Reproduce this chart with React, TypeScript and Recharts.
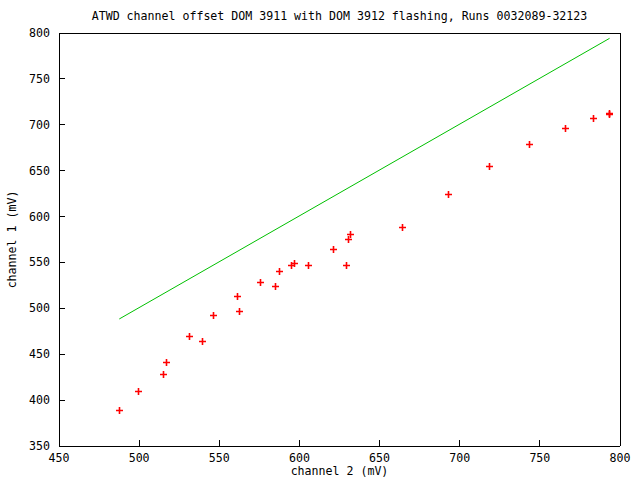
import React from 'react';
import { ScatterChart, Scatter, XAxis, YAxis, Label } from 'recharts';

const channel2Values = [487.6, 499.5, 515.1, 516.9, 531.3, 539.4, 546.3, 561.0, 562.5, 575.6, 584.8, 587.4, 594.7, 596.8, 605.5, 621.1, 629.2, 630.5, 631.7, 664.2, 692.9, 718.4, 743.4, 765.7, 783.3, 793.1, 793.1];
const channel1Values = [388.9, 409.6, 428.1, 441.2, 469.5, 464.1, 492.4, 513.1, 497.1, 528.3, 523.9, 540.2, 546.7, 548.9, 546.7, 564.2, 546.7, 575.1, 580.5, 588.2, 624.5, 654.8, 678.6, 696.1, 707.0, 712.5, 711.5];

const fitX = [487.6, 793.5];
const fitY = [488.4, 794.2];

const xTicks = [450, 500, 550, 600, 650, 700, 750, 800];
const yTicks = [350, 400, 450, 500, 550, 600, 650, 700, 750, 800];

const titleText = 'ATWD channel offset DOM 3911 with DOM 3912 flashing, Runs 0032089-32123';
const xLabelText = 'channel 2 (mV)';
const yLabelText = 'channel 1 (mV)';

const points = channel2Values.map((x, i) => ({ x, y: channel1Values[i] }));
const fitLine = fitX.map((x, i) => ({ x, y: fitY[i] }));

const FONT = 'DejaVu Sans Mono';
const FS = 11.6;
const TICK = 6;

const BottomTick = (props: any) => {
  const { x, y, payload } = props;
  return (
    <g>
      <line x1={x} y1={y} x2={x} y2={y - TICK} stroke="#000" shapeRendering="crispEdges" />
      <text x={x} y={y + 12} textAnchor="middle" dominantBaseline="central" fontFamily={FONT} fontSize={FS} fill="#000">
        {payload.value}
      </text>
    </g>
  );
};

const LeftTick = (props: any) => {
  const { x, y, payload } = props;
  return (
    <g>
      <line x1={x} y1={y} x2={x + TICK} y2={y} stroke="#000" shapeRendering="crispEdges" />
      <text x={x - 9} y={y} textAnchor="end" dominantBaseline="central" fontFamily={FONT} fontSize={FS} fill="#000">
        {payload.value}
      </text>
    </g>
  );
};

const TopTick = (props: any) => {
  const { x, y } = props;
  return <line x1={x} y1={y} x2={x} y2={y + TICK} stroke="#000" shapeRendering="crispEdges" />;
};

const RightTick = (props: any) => {
  const { x, y } = props;
  return <line x1={x} y1={y} x2={x - TICK} y2={y} stroke="#000" shapeRendering="crispEdges" />;
};

const Cross = (props: any) => {
  const { cx, cy } = props;
  if (cx == null || cy == null) return <g />;
  const cxr = Math.round(cx) + 0.5;
  const cyr = Math.round(cy) + 0.5;
  return (
    <path
      d={`M${cxr - 3.5},${cyr}H${cxr + 3.5}M${cxr},${cyr - 3.5}V${cyr + 3.5}`}
      stroke="#ff0000"
      strokeWidth={1.6}
      fill="none"
    />
  );
};

const NoShape = () => <g />;

export default function App() {
  const axisLine = { stroke: '#000', strokeWidth: 1, shapeRendering: 'crispEdges' } as any;
  return (
    <div style={{ position: 'absolute', left: 0, top: 0, width: 640, height: 480, background: '#fff' }}>
      <ScatterChart width={640} height={480} margin={{ top: 32, right: 19, bottom: 0, left: 0 }}>
        <XAxis
          xAxisId="bottom"
          dataKey="x"
          type="number"
          domain={[450, 800]}
          ticks={xTicks}
          orientation="bottom"
          height={34}
          tickSize={0}
          tickMargin={0}
          tickLine={false}
          axisLine={axisLine}
          tick={<BottomTick />}
          interval={0}
        >
          <Label
            content={(p: any) => {
              const vb = p.viewBox;
              return (
                <text x={vb.x + vb.width / 2} y={471} textAnchor="middle" dominantBaseline="central" fontFamily={FONT} fontSize={FS} fill="#000">
                  {xLabelText}
                </text>
              );
            }}
          />
        </XAxis>
        <XAxis
          xAxisId="top"
          dataKey="x"
          type="number"
          domain={[450, 800]}
          ticks={xTicks}
          orientation="top"
          height={1}
          tickSize={0}
          tickMargin={0}
          tickLine={false}
          axisLine={axisLine}
          tick={<TopTick />}
          interval={0}
        >
          <Label
            content={(p: any) => {
              const vb = p.viewBox;
              return (
                <text x={vb.x + vb.width / 2} y={16} textAnchor="middle" dominantBaseline="central" fontFamily={FONT} fontSize={FS} fill="#000">
                  {titleText}
                </text>
              );
            }}
          />
        </XAxis>
        <YAxis
          yAxisId="left"
          dataKey="y"
          type="number"
          domain={[350, 800]}
          ticks={yTicks}
          orientation="left"
          width={59}
          tickSize={0}
          tickMargin={0}
          tickLine={false}
          axisLine={axisLine}
          tick={<LeftTick />}
          interval={0}
        >
          <Label
            content={(p: any) => {
              const vb = p.viewBox;
              const cy = vb.y + vb.height / 2;
              return (
                <text x={12} y={cy} transform={`rotate(-90 12 ${cy})`} textAnchor="middle" dominantBaseline="central" fontFamily={FONT} fontSize={FS} fill="#000">
                  {yLabelText}
                </text>
              );
            }}
          />
        </YAxis>
        <YAxis
          yAxisId="right"
          dataKey="y"
          type="number"
          domain={[350, 800]}
          ticks={yTicks}
          orientation="right"
          width={1}
          tickSize={0}
          tickMargin={0}
          tickLine={false}
          axisLine={axisLine}
          tick={<RightTick />}
          interval={0}
        />
        <Scatter
          xAxisId="bottom"
          yAxisId="left"
          data={fitLine}
          line={{ stroke: '#00c000', strokeWidth: 1 }}
          shape={<NoShape />}
          isAnimationActive={false}
        />
        <Scatter
          xAxisId="bottom"
          yAxisId="left"
          data={points}
          shape={<Cross />}
          isAnimationActive={false}
        />
      </ScatterChart>
    </div>
  );
}
